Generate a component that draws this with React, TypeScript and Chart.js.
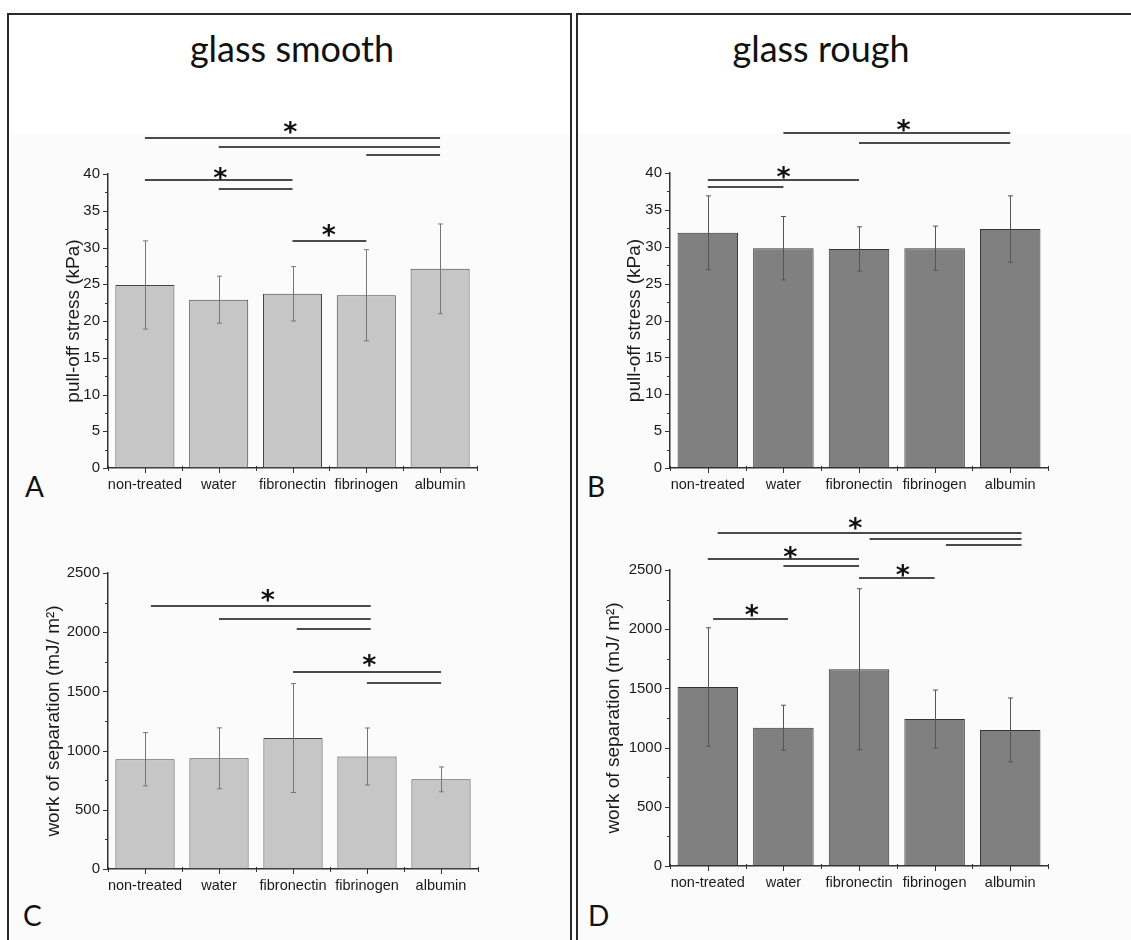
import React, { useEffect, useRef } from 'react';
import { Chart, registerables } from 'chart.js';

Chart.register(...registerables);

const categories = ['non-treated', 'water', 'fibronectin', 'fibrinogen', 'albumin'];

// pull-off stress (kPa)
const smoothStress = [24.9, 22.9, 23.7, 23.5, 27.1];
const smoothStressErr = [6.0, 3.2, 3.7, 6.2, 6.1];
const roughStress = [31.9, 29.8, 29.7, 29.8, 32.4];
const roughStressErr = [5.0, 4.3, 3.0, 3.0, 4.5];

// work of separation (mJ/m²)
const smoothWork = [927, 935, 1106, 950, 757];
const smoothWorkErr = [225, 257, 460, 241, 105];
const roughWork = [1512, 1168, 1662, 1241, 1149];
const roughWorkErr = [500, 190, 680, 245, 270];

// significance bars: [from category index, to category index, value]
const sigA = [[0, 4, 44.9], [1, 4, 43.7], [3, 4, 42.6], [0, 2, 39.2], [1, 2, 38.0], [2, 3, 30.9]];
const starsA = [[1.97, 46.3], [1.02, 40.1], [2.49, 32.3]];
const sigB = [[1, 4, 45.4], [2, 4, 44.1], [0, 2, 39.05], [0, 1, 38.1]];
const starsB = [[2.59, 46.4], [1.0, 40.1]];
const sigC = [[0.08, 3.05, 2221], [1, 3.05, 2111], [2.05, 3.05, 2027], [2, 4, 1664], [3, 4, 1571]];
const starsC = [[1.66, 2312], [3.03, 1765]];
const sigD = [[0.13, 4.15, 2812], [2.14, 4.15, 2762], [3.15, 4.15, 2711], [0, 2, 2593], [1, 2, 2534], [2, 3, 2432], [0.07, 1.06, 2086]];
const starsD = [[1.95, 2894], [1.09, 2649], [2.58, 2497], [0.58, 2156]];

const stressTicks = { max: 40, step: 5, minor: 2.5 };
const workTicks = { max: 2500, step: 500, minor: 250 };

const FONT = '"Liberation Sans", Arial, sans-serif';

function makeAnnot(cfg: any) {
  return {
    id: 'annot',
    afterDatasetsDraw(chart: any) {
      const { ctx, chartArea } = chart;
      const xs = chart.scales.x;
      const ys = chart.scales.y;
      const meta = chart.getDatasetMeta(0);
      const vals = chart.data.datasets[0].data;
      ctx.save();
      // error bars
      ctx.strokeStyle = cfg.errColor;
      ctx.lineWidth = 1;
      meta.data.forEach((bar: any, i: number) => {
        const v = vals[i];
        const e = cfg.errors[i];
        const px = Math.round(bar.x) + 0.5;
        const t = ys.getPixelForValue(v + e);
        const b = ys.getPixelForValue(v - e);
        ctx.beginPath();
        ctx.moveTo(px, t);
        ctx.lineTo(px, b);
        ctx.moveTo(px - 2.5, t);
        ctx.lineTo(px + 2.5, t);
        ctx.moveTo(px - 2.5, b);
        ctx.lineTo(px + 2.5, b);
        ctx.stroke();
      });
      // significance lines
      ctx.strokeStyle = '#4a4a4a';
      ctx.lineWidth = 2.2;
      cfg.lines.forEach(([a, b, v]: number[]) => {
        const y = Math.round(ys.getPixelForValue(v));
        ctx.beginPath();
        ctx.moveTo(xs.getPixelForValue(a), y);
        ctx.lineTo(xs.getPixelForValue(b), y);
        ctx.stroke();
      });
      // stars
      ctx.fillStyle = '#111';
      ctx.font = 'bold 27px "DejaVu Sans", sans-serif';
      ctx.textAlign = 'left';
      ctx.textBaseline = 'alphabetic';
      const m = ctx.measureText('*');
      cfg.stars.forEach(([i, v]: number[]) => {
        const cx = xs.getPixelForValue(i);
        const cy = ys.getPixelForValue(v);
        const dx = cx - (m.actualBoundingBoxRight - m.actualBoundingBoxLeft) / 2;
        const dy = cy + (m.actualBoundingBoxAscent - m.actualBoundingBoxDescent) / 2;
        ctx.fillText('*', dx, dy);
      });
      // tick marks
      ctx.strokeStyle = '#333';
      ctx.lineWidth = 1;
      const L = chartArea.left;
      const B = chartArea.bottom;
      const tk = cfg.ticks;
      for (let v = 0; v <= tk.max + 1e-9; v += tk.minor) {
        const major = Math.abs(v / tk.step - Math.round(v / tk.step)) < 1e-6;
        const y = Math.round(ys.getPixelForValue(v)) + 0.5;
        ctx.beginPath();
        ctx.moveTo(L - (major ? 5 : 3), y);
        ctx.lineTo(L, y);
        ctx.stroke();
      }
      for (let i = 0; i < categories.length; i++) {
        const x = Math.round(xs.getPixelForValue(i)) + 0.5;
        ctx.beginPath();
        ctx.moveTo(x, B);
        ctx.lineTo(x, B + 5);
        ctx.stroke();
      }
      for (let i = 0; i <= categories.length; i++) {
        const x = Math.round(xs.getPixelForValue(i - 0.5)) + 0.5;
        ctx.beginPath();
        ctx.moveTo(x, B - 2);
        ctx.lineTo(x, B + 3);
        ctx.stroke();
      }
      ctx.restore();
    },
  };
}

type Box = { l: number; t: number; r: number; b: number };

function Panel(props: any) {
  const ref = useRef<HTMLCanvasElement | null>(null);
  const box: Box = props.box;
  const area: Box = props.area;
  const w = box.r - box.l;
  const h = box.b - box.t;
  useEffect(() => {
    const yWidth = area.l - box.l;
    const xHeight = box.b - area.b;
    const chart = new Chart(ref.current as HTMLCanvasElement, {
      type: 'bar',
      data: {
        labels: categories,
        datasets: [
          {
            data: props.values,
            backgroundColor: props.fill,
            borderColor: props.stroke,
            borderWidth: 1,
            borderSkipped: false,
            barPercentage: 0.8,
            categoryPercentage: 1,
          },
        ],
      },
      options: {
        animation: false,
        responsive: false,
        devicePixelRatio: 1,
        layout: { padding: { top: area.t - box.t, right: box.r - area.r, left: 0, bottom: 0 } },
        plugins: { legend: { display: false }, tooltip: { enabled: false } },
        scales: {
          x: {
            type: 'category',
            offset: true,
            grid: { display: false, drawTicks: true, tickLength: 5 },
            border: { display: true, color: '#333', width: 1.5 },
            ticks: { font: { family: FONT, size: 14.5 }, color: '#1a1a1a', padding: 3, maxRotation: 0, autoSkip: false },
            afterFit: (s: any) => {
              s.height = xHeight;
            },
          },
          y: {
            min: 0,
            max: props.ticks.max,
            grid: { display: false, drawTicks: true, tickLength: 5 },
            border: { display: true, color: '#333', width: 1.5 },
            ticks: {
              stepSize: props.ticks.step,
              font: { family: FONT, size: 15 },
              color: '#1a1a1a',
              padding: 3,
              callback: (v: any) => String(v),
            },
            title: {
              display: true,
              text: props.yTitle,
              font: { family: FONT, size: 19 },
              color: '#1a1a1a',
              padding: { top: 0, bottom: 0 },
            },
            afterFit: (s: any) => {
              s.width = yWidth;
            },
          },
        },
      } as any,
      plugins: [
        makeAnnot({
          errors: props.errors,
          lines: props.lines,
          stars: props.stars,
          ticks: props.ticks,
          errColor: props.errColor,
        }),
      ],
    });
    return () => chart.destroy();
  }, []);
  return (
    <canvas
      ref={ref}
      width={w}
      height={h}
      style={{ position: 'absolute', left: box.l, top: box.t, width: w, height: h }}
    />
  );
}

const titleStyle: React.CSSProperties = {
  position: 'absolute',
  fontFamily: 'Lato, "Open Sans", sans-serif',
  fontSize: 36,
  lineHeight: 1.2,
  color: '#111',
  whiteSpace: 'nowrap',
  transform: 'translateX(-50%)',
};

const letterStyle: React.CSSProperties = {
  position: 'absolute',
  fontFamily: 'Lato, "Open Sans", sans-serif',
  fontSize: 28,
  lineHeight: 1.2,
  color: '#111',
};

export default function App() {
  return (
    <div
      style={{
        position: 'absolute',
        left: 0,
        top: 0,
        width: 1131,
        height: 940,
        overflow: 'hidden',
        background: '#fff',
      }}
    >
      <div
        style={{
          position: 'absolute',
          left: 7,
          top: 13,
          width: 565,
          height: 1000,
          boxSizing: 'border-box',
          border: '2px solid #2a2a2a',
          background: 'linear-gradient(#fff 0, #fff 118px, #fbfbfb 118px)',
        }}
      />
      <div
        style={{
          position: 'absolute',
          left: 576,
          top: 13,
          width: 600,
          height: 1000,
          boxSizing: 'border-box',
          border: '2px solid #2a2a2a',
          background: 'linear-gradient(#fff 0, #fff 118px, #fbfbfb 118px)',
        }}
      />
      <div style={{ ...titleStyle, left: 292, top: 27 }}>glass smooth</div>
      <div style={{ ...titleStyle, left: 821, top: 27 }}>glass rough</div>
      <div style={{ ...letterStyle, left: 25, top: 470 }}>A</div>
      <div style={{ ...letterStyle, left: 587, top: 470 }}>B</div>
      <div style={{ ...letterStyle, left: 23, top: 899 }}>C</div>
      <div style={{ ...letterStyle, left: 588, top: 899 }}>D</div>
      <Panel
        box={{ l: 62, t: 105, r: 500, b: 500 }}
        area={{ l: 108, t: 174, r: 477, b: 468 }}
        values={smoothStress}
        errors={smoothStressErr}
        lines={sigA}
        stars={starsA}
        ticks={stressTicks}
        yTitle="pull-off stress (kPa)"
        fill="#c6c6c6"
        stroke="#444"
        errColor="#777"
      />
      <Panel
        box={{ l: 623, t: 105, r: 1070, b: 500 }}
        area={{ l: 670, t: 173, r: 1048, b: 468 }}
        values={roughStress}
        errors={roughStressErr}
        lines={sigB}
        stars={starsB}
        ticks={stressTicks}
        yTitle="pull-off stress (kPa)"
        fill="#808080"
        stroke="#333"
        errColor="#555"
      />
      <Panel
        box={{ l: 42, t: 540, r: 500, b: 900 }}
        area={{ l: 108, t: 573, r: 478, b: 869 }}
        values={smoothWork}
        errors={smoothWorkErr}
        lines={sigC}
        stars={starsC}
        ticks={workTicks}
        yTitle="work of separation (mJ/ m²)"
        fill="#c6c6c6"
        stroke="#444"
        errColor="#777"
      />
      <Panel
        box={{ l: 602, t: 505, r: 1070, b: 900 }}
        area={{ l: 670, t: 570, r: 1048, b: 866 }}
        values={roughWork}
        errors={roughWorkErr}
        lines={sigD}
        stars={starsD}
        ticks={workTicks}
        yTitle="work of separation (mJ/ m²)"
        fill="#808080"
        stroke="#333"
        errColor="#555"
      />
    </div>
  );
}
